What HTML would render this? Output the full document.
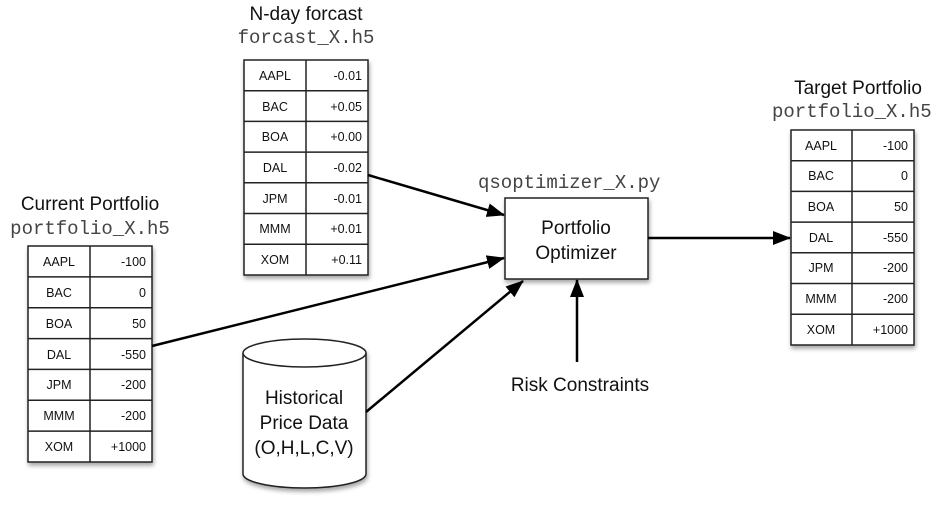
<!DOCTYPE html>
<html><head><meta charset="utf-8"><style>
body{margin:0;background:#fff}
svg{display:block}
text{font-family:"Liberation Sans",Arial,sans-serif;fill:#111}
.m{font-family:"Liberation Mono",monospace;fill:#444}
.c{font-size:12.5px}
</style></head><body>
<svg width="940" height="510" viewBox="0 0 940 510">
<defs>
<marker id="a" markerWidth="18" markerHeight="14" refX="17" refY="7" orient="auto" markerUnits="userSpaceOnUse"><path d="M0,0 L18,7 L0,14 z" fill="#000"/></marker>
<filter id="s" x="-10%" y="-10%" width="130%" height="130%"><feDropShadow dx="1" dy="3" stdDeviation="2" flood-opacity="0.35"/></filter>
</defs>

<text x="306" y="20" font-size="19" text-anchor="middle">N-day forcast</text>
<text x="306" y="43" font-size="19" text-anchor="middle" class="m">forcast_X.h5</text>
<text x="90" y="210" font-size="19" text-anchor="middle">Current Portfolio</text>
<text x="90" y="234" font-size="19" text-anchor="middle" class="m">portfolio_X.h5</text>
<text x="858" y="94" font-size="19" text-anchor="middle">Target Portfolio</text>
<text x="772" y="117" font-size="19" class="m">portfolio_X.h5</text>
<text x="478" y="188" font-size="19" class="m">qsoptimizer_X.py</text>

<g stroke="#222" stroke-width="1.5" fill="#fff">
<rect x="244" y="60" width="124" height="215" filter="url(#s)"/>
<path d="M306 60V275M244 90.7H368M244 121.4H368M244 152.1H368M244 182.8H368M244 213.5H368M244 244.2H368" fill="none"/>
<rect x="28" y="246" width="124" height="216" filter="url(#s)"/>
<path d="M90 246V462M28 276.9H152M28 307.7H152M28 338.6H152M28 369.4H152M28 400.3H152M28 431.1H152" fill="none"/>
<rect x="791" y="130" width="123" height="215" filter="url(#s)"/>
<path d="M852 130V345M791 160.7H914M791 191.4H914M791 222.1H914M791 252.8H914M791 283.5H914M791 314.2H914" fill="none"/>
<rect x="505" y="198" width="143" height="81" filter="url(#s)"/>
</g>
<g>
<text x="275" y="80" text-anchor="middle" class="c">AAPL</text><text x="362" y="80" text-anchor="end" class="c">-0.01</text>
<text x="275" y="111" text-anchor="middle" class="c">BAC</text><text x="362" y="111" text-anchor="end" class="c">+0.05</text>
<text x="275" y="141" text-anchor="middle" class="c">BOA</text><text x="362" y="141" text-anchor="end" class="c">+0.00</text>
<text x="275" y="172" text-anchor="middle" class="c">DAL</text><text x="362" y="172" text-anchor="end" class="c">-0.02</text>
<text x="275" y="203" text-anchor="middle" class="c">JPM</text><text x="362" y="203" text-anchor="end" class="c">-0.01</text>
<text x="275" y="233" text-anchor="middle" class="c">MMM</text><text x="362" y="233" text-anchor="end" class="c">+0.01</text>
<text x="275" y="264" text-anchor="middle" class="c">XOM</text><text x="362" y="264" text-anchor="end" class="c">+0.11</text>

<text x="59" y="266" text-anchor="middle" class="c">AAPL</text><text x="146" y="266" text-anchor="end" class="c">-100</text>
<text x="59" y="297" text-anchor="middle" class="c">BAC</text><text x="146" y="297" text-anchor="end" class="c">0</text>
<text x="59" y="328" text-anchor="middle" class="c">BOA</text><text x="146" y="328" text-anchor="end" class="c">50</text>
<text x="59" y="359" text-anchor="middle" class="c">DAL</text><text x="146" y="359" text-anchor="end" class="c">-550</text>
<text x="59" y="389" text-anchor="middle" class="c">JPM</text><text x="146" y="389" text-anchor="end" class="c">-200</text>
<text x="59" y="420" text-anchor="middle" class="c">MMM</text><text x="146" y="420" text-anchor="end" class="c">-200</text>
<text x="59" y="451" text-anchor="middle" class="c">XOM</text><text x="146" y="451" text-anchor="end" class="c">+1000</text>

<text x="821" y="150" text-anchor="middle" class="c">AAPL</text><text x="908" y="150" text-anchor="end" class="c">-100</text>
<text x="821" y="180" text-anchor="middle" class="c">BAC</text><text x="908" y="180" text-anchor="end" class="c">0</text>
<text x="821" y="211" text-anchor="middle" class="c">BOA</text><text x="908" y="211" text-anchor="end" class="c">50</text>
<text x="821" y="242" text-anchor="middle" class="c">DAL</text><text x="908" y="242" text-anchor="end" class="c">-550</text>
<text x="821" y="272" text-anchor="middle" class="c">JPM</text><text x="908" y="272" text-anchor="end" class="c">-200</text>
<text x="821" y="303" text-anchor="middle" class="c">MMM</text><text x="908" y="303" text-anchor="end" class="c">-200</text>
<text x="821" y="334" text-anchor="middle" class="c">XOM</text><text x="908" y="334" text-anchor="end" class="c">+1000</text>
</g>

<text x="576" y="234" font-size="19" text-anchor="middle">Portfolio</text>
<text x="576" y="259" font-size="19" text-anchor="middle">Optimizer</text>

<g stroke="#222" stroke-width="1.5" fill="#fff" filter="url(#s)">
<path d="M243 353V474A61.5 14 0 0 0 366 474V353"/>
<ellipse cx="304.5" cy="353" rx="61.5" ry="14"/>
</g>
<text x="304" y="404" font-size="19" text-anchor="middle">Historical</text>
<text x="304" y="429" font-size="19" text-anchor="middle">Price Data</text>
<text x="304" y="454" font-size="19" text-anchor="middle">(O,H,L,C,V)</text>

<text x="580" y="391" font-size="19" text-anchor="middle">Risk Constraints</text>

<g stroke="#000" stroke-width="2.5" fill="none" marker-end="url(#a)">
<path d="M368 175L504 215"/>
<path d="M152 346L504 258"/>
<path d="M366 412L523 281"/>
<path d="M577 362V280"/>
<path d="M648 238H790"/>
</g>
</svg>
</body></html>
